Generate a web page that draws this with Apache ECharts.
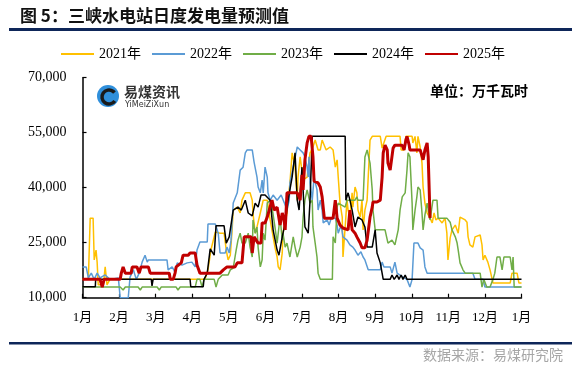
<!DOCTYPE html>
<html>
<head>
<meta charset="utf-8">
<script src="https://cdn.jsdelivr.net/npm/echarts@6/dist/echarts.min.js"></script>
<style>
html,body{margin:0;padding:0;background:#fff;}
#chart{width:572px;height:370px;}
</style>
</head>
<body>
<div id="chart"></div>
<script>
// x = month offset from 1 Jan (0..12), y = 万千瓦时
const monthLabels = ['1月','2月','3月','4月','5月','6月','7月','8月','9月','10月','11月','12月','1月'];
const seriesNames = ['2021年','2022年','2023年','2024年','2025年'];
const seriesColors = ['#FFC000','#5B9BD5','#70AD47','#000000','#C00000'];

const d2021 = [[0,15000],[0.16,15000],[0.21,31700],[0.29,31700],[0.32,20300],[0.37,23000],[0.40,19700],[0.43,13500],[0.57,13500],[0.62,18400],[0.67,13500],[0.75,15000],[3.35,15000],[3.43,17600],[3.51,23000],[3.63,27900],[3.76,27600],[3.87,27600],[3.93,23000],[3.98,20300],[4.04,21600],[4.09,28500],[4.12,33900],[4.23,34700],[4.31,33100],[4.36,36600],[4.45,38600],[4.58,38600],[4.64,36600],[4.66,33100],[4.72,27600],[4.77,29300],[4.86,33100],[4.94,36600],[5.05,36600],[5.13,31200],[5.18,31200],[5.26,23800],[5.32,21100],[5.35,18400],[5.40,17600],[5.46,22200],[5.48,27600],[5.59,33100],[5.62,36600],[5.67,41300],[5.73,49500],[5.81,45600],[5.87,36600],[5.89,42900],[5.95,48400],[6.03,42100],[6.14,42900],[6.17,45600],[6.22,49500],[6.30,51100],[6.36,53000],[6.41,53000],[6.44,50300],[6.50,50300],[6.55,53000],[6.58,53000],[6.66,50300],[6.77,51100],[6.85,50300],[6.91,45600],[6.96,47600],[6.99,42900],[7.04,35800],[7.10,32000],[7.12,21100],[7.18,29300],[7.23,36600],[7.26,33900],[7.31,32000],[7.37,38600],[7.39,34700],[7.45,40200],[7.50,38600],[7.53,33900],[7.59,32000],[7.64,36600],[7.67,28500],[7.72,33900],[7.78,36600],[7.81,42900],[7.86,53000],[7.92,54000],[8.14,54000],[8.19,50800],[8.24,50800],[8.30,54000],[8.68,54000],[8.71,50300],[8.79,50300],[8.84,54000],[9.01,54000],[9.03,52200],[9.09,54000],[9.14,49500],[9.17,54000],[9.23,51100],[9.28,46700],[9.31,40200],[9.36,35800],[9.42,33100],[9.50,31700],[9.56,30400],[9.61,33100],[9.66,31200],[9.72,31700],[9.83,30400],[9.91,31700],[9.96,27600],[9.99,20300],[10.05,26300],[10.10,28500],[10.19,29800],[10.27,27600],[10.32,32000],[10.46,31200],[10.51,30600],[10.54,26600],[10.59,24400],[10.67,23800],[10.73,26600],[10.87,27100],[10.92,24400],[10.95,20300],[11.00,21600],[11.05,21600],[11.08,19700],[11.14,17600],[11.22,14000],[11.69,14000],[11.74,16700],[11.88,16700],[11.93,14000],[12,14000]];

const d2022 = [[0,18400],[0.10,18400],[0.16,15400],[0.24,16700],[0.32,15000],[0.40,16700],[0.48,15400],[0.62,16200],[0.75,15000],[0.98,15400],[1.03,10000],[1.25,10000],[1.30,15600],[1.39,17600],[1.47,15000],[1.55,16700],[1.63,19700],[1.71,21600],[1.77,19700],[1.80,20300],[2.31,20300],[2.34,17600],[2.45,18400],[2.53,17000],[2.59,19500],[2.72,18900],[2.86,19500],[2.99,19700],[3.08,18400],[3.13,23000],[3.21,25200],[3.41,25200],[3.43,30100],[3.63,30100],[3.71,27600],[3.76,22200],[3.90,22200],[3.95,23800],[4.01,22200],[4.06,25700],[4.12,35800],[4.23,38600],[4.31,44800],[4.39,45600],[4.45,49500],[4.50,50300],[4.64,50300],[4.69,47000],[4.74,47000],[4.77,42900],[4.80,40200],[4.86,38600],[4.91,42100],[4.94,38600],[4.99,45600],[5.05,42900],[5.07,38600],[5.13,36600],[5.21,38000],[5.32,36600],[5.43,38000],[5.54,35300],[5.59,33900],[5.65,36600],[5.67,41300],[5.76,45600],[5.87,51100],[5.95,50300],[6.03,49500],[6.08,48400],[6.14,45600],[6.17,42900],[6.19,48400],[6.22,41300],[6.28,36600],[6.33,42900],[6.41,39400],[6.44,33900],[6.50,36600],[6.55,33900],[6.58,30400],[6.69,31200],[6.74,29800],[6.80,31700],[6.91,31700],[6.96,29800],[6.99,27600],[7.07,29800],[7.12,26600],[7.23,25700],[7.31,24400],[7.39,23800],[7.45,23000],[7.53,21600],[7.61,22500],[7.67,21100],[7.72,20300],[7.81,17600],[8.14,17600],[8.19,19700],[8.24,18400],[8.41,18400],[8.46,16700],[8.54,19700],[8.60,16700],[8.76,15600],[8.87,15000],[8.95,12900],[9.01,15000],[9.06,24900],[9.17,24900],[9.23,23600],[9.31,23000],[9.36,18400],[9.42,16700],[10.67,16700],[10.73,15000],[10.95,15000],[11.00,12900],[12,12900]];

const d2023 = [[0,13000],[0.35,12900],[1.03,12900],[1.11,12100],[1.17,12900],[1.52,12900],[1.58,12100],[1.63,12900],[2.04,12900],[2.10,12100],[2.15,12900],[2.56,12900],[2.61,12100],[2.67,12900],[3.08,12900],[3.13,15000],[3.21,15000],[3.27,12900],[3.32,15000],[3.60,15000],[3.65,12900],[3.71,15000],[3.76,15000],[3.82,16200],[3.98,16200],[4.04,17600],[4.12,18100],[4.20,23000],[4.25,25700],[4.31,27600],[4.36,24900],[4.45,24900],[4.50,24400],[4.53,27600],[4.58,23800],[4.64,21100],[4.66,31200],[4.72,27600],[4.77,29300],[4.80,23800],[4.86,18400],[4.91,20300],[4.94,27600],[4.99,25700],[5.05,35800],[5.13,36600],[5.18,34700],[5.26,29300],[5.32,24900],[5.40,32000],[5.46,25700],[5.48,27600],[5.54,23800],[5.59,24900],[5.67,21100],[5.76,26600],[5.81,23800],[5.87,21100],[5.95,23800],[6.00,26600],[6.03,32000],[6.08,36600],[6.14,39400],[6.17,39400],[6.22,35800],[6.28,36600],[6.30,29300],[6.36,24900],[6.41,21100],[6.44,16700],[6.50,15000],[6.83,15000],[6.85,26600],[6.91,24900],[6.96,34700],[6.99,35800],[7.04,35300],[7.18,34700],[7.23,36600],[7.45,36600],[7.50,37500],[7.53,36600],[7.67,36600],[7.72,48400],[7.78,50300],[7.81,50300],[7.86,46700],[7.92,39400],[7.94,33900],[8.00,28500],[8.27,28500],[8.35,24900],[8.46,25700],[8.54,24400],[8.63,28500],[8.68,33900],[8.74,37500],[8.82,38600],[8.87,44800],[8.90,49500],[8.95,48400],[9.01,35800],[9.03,28500],[9.09,33900],[9.14,37500],[9.17,40200],[9.23,39400],[9.28,33100],[9.31,28500],[9.36,32600],[9.42,35800],[9.50,31200],[9.58,36600],[9.69,36600],[9.72,31700],[9.96,31700],[10.05,30600],[10.10,28500],[10.19,26600],[10.24,24900],[10.27,23000],[10.32,19500],[10.40,17600],[10.46,16700],[10.87,16700],[10.92,12900],[10.97,15000],[11.05,12900],[11.14,12900],[11.22,15000],[11.27,16700],[11.33,21100],[11.41,21100],[11.47,17600],[11.52,21100],[11.69,21100],[11.74,17600],[11.77,21100],[11.80,12900],[12,12900]];

const d2024 = [[0,13000],[0.35,13000],[0.36,15000],[1.88,15000],[1.90,13200],[1.93,15000],[2.94,15000],[2.96,13000],[3.30,13000],[3.32,15000],[3.41,16700],[3.49,23300],[3.60,21600],[3.65,29600],[3.87,29600],[3.93,24900],[4.01,26600],[4.12,33900],[4.25,34700],[4.34,33900],[4.45,36600],[4.53,33100],[4.64,32300],[4.72,35800],[4.80,34700],[4.88,38000],[4.99,38000],[5.07,37200],[5.13,36600],[5.21,28500],[5.32,23000],[5.37,21600],[5.46,26600],[5.54,30400],[5.62,36600],[5.73,42900],[5.81,49500],[5.87,36600],[5.92,33900],[6.00,45600],[6.08,29300],[6.17,27600],[6.22,36600],[6.28,54000],[7.18,54000],[7.20,36600],[7.26,38600],[7.31,36600],[7.37,33900],[7.45,29300],[7.53,32000],[7.64,31200],[7.72,29300],[7.78,23800],[7.92,23800],[8.00,28500],[8.05,22200],[8.14,19500],[8.22,15000],[8.41,15000],[8.46,16200],[8.52,15000],[8.60,16200],[8.65,15000],[8.71,16200],[8.76,15000],[8.82,16200],[8.87,15000],[12,15000]];

const d2025 = [[0,15000],[0.48,15000],[0.54,12900],[0.59,15000],[1.03,15000],[1.06,16700],[1.11,18400],[1.17,16700],[1.33,16700],[1.36,18400],[1.49,18400],[1.55,16700],[1.60,18400],[1.80,18400],[1.85,16700],[2.37,16700],[2.40,15000],[2.48,15000],[2.53,16700],[2.56,18400],[2.70,19500],[2.75,21600],[2.89,21600],[2.94,22200],[3.08,22200],[3.13,18900],[3.21,16700],[3.76,16700],[3.85,17600],[3.95,18400],[4.17,18400],[4.23,19500],[4.36,19500],[4.42,26600],[4.61,26600],[4.64,22200],[4.69,26600],[4.80,24900],[4.88,24900],[4.91,30400],[4.99,30400],[5.05,32000],[5.18,36600],[5.24,33900],[5.32,34700],[5.40,29800],[5.46,33100],[5.51,31200],[5.54,28500],[5.59,38600],[5.87,38600],[5.92,37500],[5.95,36600],[6.00,43500],[6.03,39400],[6.08,47600],[6.14,52200],[6.19,54000],[6.25,54000],[6.30,48400],[6.33,41800],[6.44,41300],[6.50,40200],[6.55,37500],[6.61,31700],[6.85,31700],[6.91,36600],[6.96,31700],[7.04,29800],[7.12,29000],[7.26,28500],[7.31,33900],[7.37,28500],[7.45,27600],[7.50,26600],[7.59,24900],[7.64,23600],[7.72,23600],[7.78,25700],[7.86,32000],[7.92,34700],[7.94,36100],[8.05,36100],[8.14,36600],[8.19,42900],[8.22,49500],[8.27,51600],[8.33,50300],[8.35,46700],[8.41,44800],[8.43,44800],[8.49,50800],[8.54,51600],[8.74,51600],[8.79,50300],[8.84,53000],[8.87,54000],[8.93,51600],[8.95,50300],[9.23,50300],[9.31,47600],[9.36,50300],[9.42,52200],[9.45,48400],[9.50,31700]];

const seriesData = [d2021, d2022, d2023, d2024, d2025];
const lineWidths = [1.5, 1.5, 1.5, 1.5, 3];

const serif = '"Liberation Serif", "Times New Roman", "Noto Sans CJK SC", serif';

const chart = echarts.init(document.getElementById('chart'), null, {renderer: 'canvas'});

const option = {
  animation: false,
  backgroundColor: '#ffffff',
  grid: {left: 82.5, right: 50.5, top: 77.7, bottom: 72.3, containLabel: false},
  legend: {
    left: 55, top: 42,
    itemWidth: 33, itemHeight: 12, itemGap: 10,
    itemStyle: {opacity: 0},
    textStyle: {fontFamily: serif, fontSize: 14, color: '#000'},
    data: seriesNames
  },
  xAxis: {
    type: 'value', min: 0, max: 12, interval: 1,
    axisLine: {show: true, onZero: false, lineStyle: {color: '#000', width: 1.5}},
    axisTick: {show: true, inside: true, length: 4, lineStyle: {color: '#000', width: 1.2}},
    splitLine: {show: false},
    axisLabel: {
      margin: 13, fontFamily: serif, fontSize: 13, color: '#000',
      formatter: function (v) { return monthLabels[Math.round(v)]; }
    }
  },
  yAxis: {
    type: 'value', min: 10000, max: 70000, interval: 15000,
    axisLine: {show: true, lineStyle: {color: '#000', width: 1.5}},
    axisTick: {show: true, inside: true, length: 4, lineStyle: {color: '#000', width: 1.2}},
    splitLine: {show: false},
    axisLabel: {
      margin: 16, fontFamily: serif, fontSize: 14, color: '#000',
      formatter: function (v) { return v.toLocaleString('en-US'); }
    }
  },
  series: seriesNames.map(function (name, i) {
    return {
      name: name, type: 'line', data: seriesData[i],
      showSymbol: false, symbol: 'none',
      color: seriesColors[i],
      lineStyle: {color: seriesColors[i], width: lineWidths[i]},
      itemStyle: {color: seriesColors[i]},
      z: 2 + i
    };
  }),
  graphic: [
    {type: 'text', left: 20, top: 7, style: {text: '图 5：三峡水电站日度发电量预测值', font: 'bold 17px "Noto Sans CJK SC", sans-serif', fill: '#111'}},
    {type: 'rect', shape: {x: 9, y: 28, width: 563, height: 3}, style: {fill: '#0E2659'}},
    {type: 'rect', shape: {x: 9, y: 342, width: 563, height: 2.5}, style: {fill: '#0E2659'}},
    {type: 'text', right: 9, top: 348, style: {text: '数据来源：易煤研究院', font: '14px "Noto Sans CJK SC", sans-serif', fill: '#A6A6A6'}},
    {type: 'text', left: 430, top: 84, style: {text: '单位：万千瓦时', font: 'bold 14px "Noto Sans CJK SC", sans-serif', fill: '#000'}},
    {type: 'circle', shape: {cx: 108, cy: 96, r: 11}, style: {fill: '#2F8FDB'}},
    {type: 'arc', shape: {cx: 109, cy: 97, r: 7, startAngle: 0.6, endAngle: 5.6}, style: {stroke: '#1a1a1a', lineWidth: 3.5, fill: null}},
    {type: 'text', left: 124, top: 85, style: {text: '易煤资讯', font: 'bold 14px "Noto Sans CJK SC", sans-serif', fill: '#333'}},
    {type: 'text', left: 125, top: 101, style: {text: 'YiMeiZiXun', font: '8px "DejaVu Sans", sans-serif', fill: '#333'}}
  ]
};
chart.setOption(option);
</script>
</body>
</html>
